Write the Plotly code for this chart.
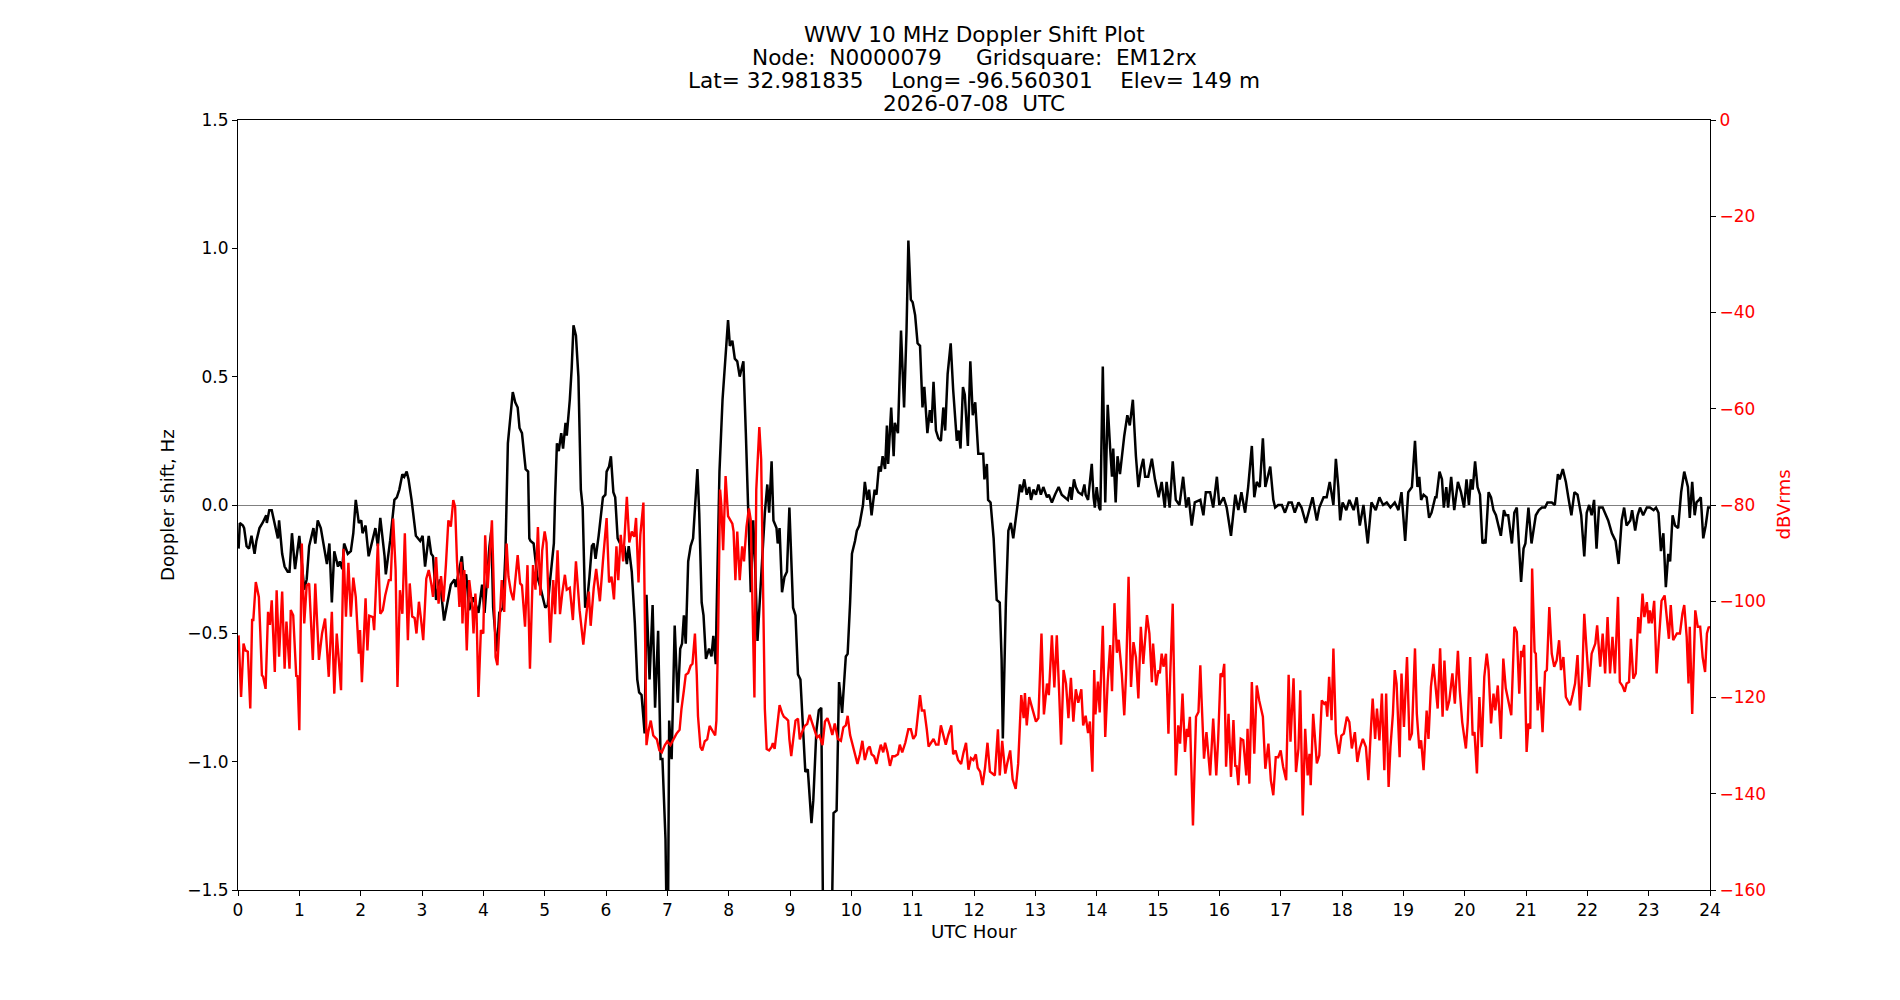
import plotly.graph_objects as go

# ---------------- data ----------------
black_hours = [
0.01,0.03,0.08,0.10,0.14,0.18,0.22,0.27,0.30,0.35,0.40,0.46,0.47,0.51,0.55,0.59,0.65,0.67,0.72,0.76,
0.81,0.84,0.88,0.93,1.00,1.08,1.12,1.16,1.23,1.26,1.30,1.35,1.39,1.45,1.49,1.53,1.57,1.63,1.66,1.70,
1.73,1.79,1.84,1.88,1.92,1.97,2.01,2.03,2.08,2.13,2.24,2.28,2.32,2.39,2.41,2.48,2.55,2.59,2.63,2.68,
2.71,2.75,2.78,2.83,2.90,2.97,3.01,3.05,3.11,3.15,3.18,3.23,3.29,3.36,3.47,3.53,3.55,3.65,3.68,3.72,
3.77,3.83,3.88,3.92,3.98,4.02,4.10,4.13,4.16,4.22,4.26,4.32,4.36,4.40,4.48,4.52,4.56,4.59,4.63,4.66,
4.69,4.73,4.75,4.77,4.82,4.88,4.93,5.01,5.05,5.09,5.15,5.17,5.20,5.23,5.27,5.30,5.34,5.36,5.41,5.44,
5.47,5.51,5.55,5.59,5.62,5.66,5.69,5.73,5.77,5.80,5.83,5.88,5.92,5.95,5.99,6.01,6.05,6.08,6.12,6.15,
6.19,6.23,6.26,6.30,6.34,6.37,6.42,6.47,6.51,6.54,6.58,6.63,6.66,6.71,6.76,6.80,6.85,6.89,6.92,6.97,
6.99,7.01,7.03,7.07,7.12,7.17,7.21,7.24,7.27,7.30,7.34,7.38,7.42,7.46,7.49,7.52,7.56,7.59,7.63,7.68,
7.72,7.75,7.79,7.80,7.85,7.90,7.95,7.99,8.02,8.06,8.10,8.14,8.18,8.24,8.28,8.32,8.36,8.40,8.43,8.47,
8.51,8.55,8.59,8.63,8.66,8.70,8.73,8.78,8.80,8.83,8.87,8.91,8.95,8.99,9.05,9.09,9.13,9.17,9.21,9.25,
9.29,9.32,9.35,9.38,9.43,9.47,9.51,9.54,9.60,9.68,9.71,9.76,9.80,9.85,9.91,9.94,9.98,10.01,10.06,10.09,
10.13,10.16,10.19,10.22,10.26,10.29,10.33,10.38,10.41,10.45,10.48,10.51,10.55,10.58,10.60,10.65,10.69,10.71,10.76,10.81,
10.86,10.90,10.93,10.97,11.00,11.04,11.08,11.12,11.16,11.19,11.24,11.28,11.31,11.34,11.38,11.42,11.46,11.50,11.53,11.57,
11.62,11.66,11.72,11.75,11.78,11.82,11.85,11.90,11.94,11.98,12.02,12.04,12.07,12.11,12.15,12.17,12.21,12.23,12.27,12.32,
12.34,12.37,12.42,12.45,12.47,12.50,12.52,12.56,12.60,12.64,12.67,12.71,12.75,12.78,12.82,12.86,12.90,12.93,12.97,13.01,
13.05,13.09,13.13,13.19,13.22,13.27,13.32,13.38,13.43,13.48,13.53,13.57,13.59,13.63,13.66,13.70,13.76,13.80,13.82,13.86,
13.92,13.95,13.97,14.00,14.04,14.06,14.10,14.14,14.18,14.22,14.25,14.27,14.31,14.34,14.38,14.45,14.50,14.54,14.59,14.64,
14.68,14.72,14.76,14.79,14.84,14.90,14.95,15.01,15.06,15.11,15.14,15.19,15.24,15.29,15.35,15.41,15.46,15.50,15.55,15.60,
15.69,15.74,15.78,15.85,15.90,15.96,16.00,16.07,16.12,16.19,16.26,16.31,16.36,16.42,16.47,16.53,16.57,16.61,16.66,16.71,
16.75,16.78,16.83,16.88,16.91,16.96,17.02,17.07,17.13,17.18,17.23,17.29,17.34,17.41,17.47,17.52,17.59,17.63,17.70,17.75,
17.80,17.86,17.90,17.94,17.97,18.01,18.07,18.12,18.19,18.24,18.29,18.35,18.42,18.48,18.55,18.61,18.67,18.73,18.79,18.86,
18.92,18.97,19.03,19.08,19.14,19.19,19.23,19.26,19.29,19.33,19.38,19.42,19.46,19.52,19.54,19.59,19.63,19.66,19.70,19.73,
19.78,19.83,19.89,19.94,19.99,20.03,20.07,20.10,20.13,20.17,20.21,20.25,20.29,20.32,20.34,20.39,20.43,20.47,20.51,20.55,
20.59,20.64,20.67,20.71,20.77,20.81,20.85,20.92,20.96,20.99,21.04,21.09,21.16,21.21,21.26,21.31,21.35,21.42,21.47,21.52,
21.55,21.60,21.65,21.69,21.74,21.79,21.84,21.90,21.95,21.99,22.03,22.07,22.11,22.15,22.19,22.25,22.29,22.34,22.40,22.46,
22.51,22.56,22.60,22.64,22.70,22.73,22.78,22.82,22.86,22.91,22.97,23.02,23.08,23.12,23.16,23.20,23.24,23.28,23.32,23.35,
23.39,23.43,23.48,23.53,23.58,23.64,23.67,23.71,23.75,23.78,23.82,23.85,23.89,23.93,23.97,24.00]

doppler_shift_hz = [
-0.17,-0.07,-0.08,-0.09,-0.16,-0.17,-0.12,-0.19,-0.14,-0.09,-0.07,-0.04,-0.07,-0.02,-0.02,-0.07,-0.13,-0.06,-0.19,-0.24,
-0.26,-0.26,-0.11,-0.25,-0.12,-0.33,-0.29,-0.16,-0.09,-0.15,-0.06,-0.09,-0.14,-0.23,-0.15,-0.38,-0.18,-0.24,-0.22,-0.25,
-0.15,-0.19,-0.18,-0.11,0.02,-0.07,-0.06,-0.11,-0.08,-0.20,-0.09,-0.16,-0.05,-0.20,-0.27,-0.14,0.02,0.03,0.06,0.12,
0.11,0.13,0.10,0.02,-0.12,-0.14,-0.12,-0.24,-0.12,-0.19,-0.20,-0.37,-0.29,-0.45,-0.31,-0.29,-0.32,-0.20,-0.29,-0.27,
-0.41,-0.36,-0.39,-0.42,-0.31,-0.42,-0.16,-0.10,-0.40,-0.57,-0.42,-0.40,-0.19,0.24,0.44,0.40,0.38,0.30,0.28,0.20,
0.14,0.13,-0.13,-0.14,-0.15,-0.28,-0.32,-0.40,-0.39,-0.29,-0.15,0.03,0.24,0.21,0.28,0.22,0.32,0.27,0.41,0.53,
0.70,0.66,0.50,0.06,-0.01,-0.40,-0.38,-0.28,-0.16,-0.15,-0.21,-0.12,-0.04,0.03,0.04,0.13,0.15,0.19,0.05,0.03,
-0.13,-0.15,-0.18,-0.16,-0.23,-0.16,-0.26,-0.46,-0.68,-0.73,-0.74,-0.89,-0.35,-0.68,-0.39,-0.79,-0.49,-0.99,-0.99,-1.30,
-1.65,-1.65,-0.84,-0.99,-0.47,-0.77,-0.56,-0.54,-0.43,-0.54,-0.22,-0.16,-0.13,0.02,0.14,-0.03,-0.38,-0.43,-0.60,-0.56,
-0.59,-0.51,-0.62,-0.46,0.13,0.41,0.59,0.72,0.62,0.64,0.57,0.56,0.50,0.56,0.28,-0.01,-0.34,-0.06,-0.23,-0.53,
-0.35,-0.16,-0.03,0.08,-0.03,0.17,-0.06,-0.09,-0.15,-0.09,-0.34,-0.28,-0.26,-0.01,-0.40,-0.43,-0.66,-0.68,-0.86,-1.04,
-1.03,-1.13,-1.24,-1.15,-0.88,-0.80,-0.79,-1.65,-1.65,-1.65,-1.20,-1.19,-0.69,-0.81,-0.59,-0.58,-0.38,-0.19,-0.14,-0.10,
-0.08,-0.03,0.00,0.09,0.02,0.06,-0.04,0.06,0.04,0.15,0.13,0.19,0.14,0.31,0.16,0.38,0.19,0.32,0.28,0.68,
0.38,0.68,1.03,0.80,0.79,0.74,0.63,0.62,0.38,0.46,0.28,0.37,0.32,0.48,0.29,0.26,0.25,0.38,0.29,0.51,
0.63,0.45,0.25,0.29,0.22,0.46,0.43,0.23,0.56,0.35,0.40,0.32,0.20,0.20,0.20,0.10,0.16,0.02,0.01,-0.13,
-0.23,-0.37,-0.38,-0.60,-0.91,-0.60,-0.38,-0.10,-0.07,-0.13,-0.08,0.00,0.08,0.05,0.10,0.04,0.07,0.02,0.06,0.04,
0.08,0.04,0.07,0.03,0.04,0.01,0.04,0.07,0.04,0.03,0.02,0.07,0.02,0.10,0.07,0.05,0.04,0.08,0.04,0.02,
0.16,0.03,-0.01,0.07,-0.01,-0.02,0.54,0.01,0.39,0.22,0.11,0.22,0.01,0.19,0.12,0.27,0.35,0.31,0.41,0.19,
0.07,0.14,0.18,0.11,0.11,0.18,0.10,0.03,0.09,-0.01,0.09,-0.01,0.17,0.02,0.00,0.11,-0.01,0.03,-0.08,0.01,
0.02,-0.04,0.05,0.05,-0.01,0.11,0.00,0.03,-0.01,-0.12,0.04,-0.02,0.05,-0.03,0.07,0.23,0.03,0.09,0.07,0.26,
0.07,0.10,0.15,0.02,-0.01,0.00,0.00,-0.03,0.01,0.01,-0.03,0.01,-0.01,-0.07,-0.01,0.03,-0.06,-0.01,0.03,0.03,
0.09,0.00,0.18,0.07,-0.06,0.01,-0.02,0.02,-0.02,0.03,-0.08,0.00,-0.15,0.01,-0.02,0.03,0.00,0.01,-0.01,0.01,
-0.02,0.05,-0.14,0.05,0.07,0.25,0.07,0.11,0.02,0.04,0.03,-0.05,-0.03,0.03,0.03,0.13,0.10,-0.01,0.07,-0.01,
0.11,-0.02,0.09,0.05,-0.01,0.10,0.00,0.10,0.06,0.17,0.07,0.04,-0.15,-0.14,-0.15,0.05,0.03,-0.02,-0.04,-0.08,
-0.12,-0.02,-0.04,-0.04,-0.15,-0.03,-0.01,-0.30,-0.17,-0.15,-0.01,-0.15,-0.04,-0.02,-0.01,-0.01,0.01,0.01,0.00,0.12,
0.10,0.14,0.09,0.03,-0.04,0.05,0.04,-0.04,-0.20,-0.03,0.00,-0.04,0.02,-0.17,-0.01,-0.01,-0.03,-0.06,-0.11,-0.14,
-0.23,-0.06,-0.01,-0.08,-0.06,-0.02,-0.10,-0.04,-0.01,-0.04,-0.01,-0.01,-0.02,-0.01,-0.03,-0.18,-0.11,-0.32,-0.19,-0.22,
-0.04,-0.08,-0.09,0.05,0.13,0.07,-0.05,0.09,-0.04,0.01,0.02,0.03,-0.13,-0.08,-0.01,-0.01]

red_hours = [
0.01,0.05,0.09,0.12,0.16,0.20,0.23,0.25,0.29,0.34,0.36,0.39,0.41,0.45,0.49,0.52,0.55,0.60,0.63,0.67,
0.72,0.76,0.79,0.84,0.86,0.90,0.95,0.97,1.00,1.04,1.08,1.12,1.16,1.22,1.26,1.32,1.37,1.42,1.48,1.53,
1.57,1.61,1.64,1.68,1.72,1.76,1.80,1.84,1.88,1.92,1.97,1.99,2.02,2.08,2.11,2.14,2.20,2.22,2.28,2.32,
2.36,2.40,2.46,2.49,2.53,2.57,2.60,2.64,2.68,2.72,2.77,2.80,2.84,2.88,2.91,2.95,2.98,3.02,3.07,3.11,
3.15,3.18,3.23,3.27,3.31,3.35,3.39,3.43,3.47,3.51,3.54,3.57,3.61,3.64,3.66,3.69,3.73,3.77,3.82,3.84,
3.87,3.89,3.92,3.96,4.00,4.03,4.07,4.11,4.14,4.16,4.20,4.23,4.27,4.30,4.34,4.38,4.41,4.45,4.49,4.52,
4.56,4.60,4.63,4.68,4.72,4.76,4.81,4.85,4.89,4.93,4.96,5.00,5.03,5.07,5.09,5.14,5.17,5.21,5.25,5.29,
5.33,5.36,5.41,5.46,5.51,5.57,5.63,5.68,5.72,5.75,5.80,5.84,5.90,5.95,5.98,6.01,6.05,6.09,6.13,6.17,
6.20,6.24,6.28,6.34,6.38,6.42,6.46,6.49,6.53,6.56,6.61,6.64,6.66,6.69,6.73,6.77,6.83,6.87,6.91,6.96,
7.00,7.05,7.10,7.15,7.20,7.23,7.27,7.30,7.34,7.38,7.41,7.45,7.48,7.50,7.54,7.57,7.61,7.65,7.69,7.74,
7.78,7.80,7.83,7.86,7.88,7.91,7.95,7.99,8.03,8.06,8.08,8.11,8.14,8.18,8.22,8.25,8.29,8.33,8.36,8.39,
8.42,8.45,8.50,8.53,8.56,8.59,8.62,8.66,8.70,8.72,8.75,8.79,8.83,8.87,8.90,8.94,8.97,8.99,9.02,9.06,
9.09,9.13,9.16,9.20,9.24,9.28,9.32,9.36,9.40,9.44,9.48,9.53,9.57,9.61,9.65,9.69,9.73,9.78,9.83,9.87,
9.91,9.94,9.98,10.02,10.05,10.10,10.14,10.18,10.22,10.27,10.30,10.33,10.37,10.41,10.45,10.48,10.52,10.55,10.59,10.63,
10.67,10.71,10.76,10.79,10.83,10.88,10.93,10.97,11.01,11.05,11.08,11.12,11.15,11.19,11.23,11.26,11.30,11.34,11.38,11.42,
11.46,11.50,11.54,11.58,11.63,11.66,11.70,11.74,11.79,11.83,11.87,11.91,11.95,11.99,12.03,12.06,12.10,12.14,12.18,12.22,
12.26,12.30,12.34,12.39,12.42,12.46,12.51,12.54,12.59,12.63,12.68,12.72,12.77,12.81,12.83,12.86,12.90,12.94,12.97,13.01,
13.05,13.10,13.14,13.19,13.22,13.27,13.31,13.35,13.39,13.42,13.46,13.50,13.54,13.58,13.62,13.66,13.70,13.75,13.78,13.82,
13.86,13.89,13.93,13.96,13.98,14.02,14.05,14.10,14.14,14.18,14.22,14.25,14.29,14.33,14.36,14.41,14.45,14.48,14.52,14.56,
14.60,14.64,14.68,14.72,14.76,14.82,14.86,14.90,14.92,14.97,15.01,15.03,15.06,15.09,15.13,15.17,15.20,15.24,15.29,15.33,
15.36,15.40,15.44,15.47,15.49,15.52,15.57,15.62,15.66,15.69,15.71,15.75,15.79,15.85,15.90,15.95,15.98,16.02,16.05,16.08,
16.11,16.15,16.19,16.23,16.26,16.28,16.31,16.35,16.39,16.44,16.46,16.49,16.53,16.57,16.61,16.65,16.71,16.75,16.80,16.84,
16.88,16.92,16.96,17.00,17.04,17.09,17.13,17.16,17.21,17.25,17.29,17.32,17.36,17.40,17.44,17.47,17.49,17.53,17.59,17.63,
17.67,17.71,17.74,17.76,17.79,17.83,17.86,17.90,17.95,17.99,18.03,18.08,18.12,18.16,18.21,18.25,18.29,18.34,18.39,18.43,
18.47,18.50,18.54,18.57,18.61,18.65,18.69,18.72,18.76,18.79,18.83,18.86,18.89,18.94,18.97,19.01,19.06,19.10,19.14,19.19,
19.22,19.26,19.29,19.33,19.38,19.41,19.45,19.49,19.53,19.56,19.60,19.64,19.67,19.71,19.75,19.80,19.84,19.89,19.92,19.96,
19.99,20.02,20.05,20.09,20.13,20.16,20.20,20.24,20.28,20.32,20.36,20.39,20.43,20.47,20.50,20.54,20.59,20.63,20.67,20.71,
20.76,20.81,20.85,20.89,20.92,20.94,20.97,21.01,21.04,21.07,21.10,21.14,21.16,21.19,21.23,21.27,21.31,21.34,21.38,21.42,
21.46,21.50,21.54,21.57,21.61,21.65,21.68,21.72,21.76,21.80,21.84,21.88,21.92,21.95,21.99,22.03,22.07,22.13,22.16,22.21,
22.25,22.29,22.33,22.37,22.41,22.45,22.50,22.53,22.57,22.61,22.64,22.68,22.71,22.75,22.79,22.83,22.86,22.90,22.93,22.97,
23.00,23.02,23.05,23.09,23.13,23.17,23.21,23.26,23.29,23.33,23.36,23.40,23.46,23.51,23.55,23.58,23.62,23.65,23.67,23.71,
23.76,23.80,23.84,23.88,23.92,23.95,23.98,24.00]

signal_dbvrms = [
-107.1,-119.9,-108.8,-110.2,-110.5,-122.3,-103.9,-103.9,-96.0,-99.1,-105.3,-115.4,-115.7,-118.2,-102.2,-104.9,-99.8,-114.7,-97.7,-111.5,
-98.0,-114.0,-104.2,-114.0,-101.8,-102.9,-115.7,-115.4,-126.8,-88.0,-104.6,-96.7,-96.3,-112.2,-96.3,-112.2,-106.7,-103.6,-115.7,-102.2,
-119.2,-106.7,-111.6,-118.5,-89.1,-103.2,-92.0,-103.2,-95.1,-99.1,-110.9,-106.0,-116.8,-99.4,-110.2,-103.0,-103.3,-106.0,-88.0,-102.6,
-101.9,-98.8,-95.6,-95.6,-82.8,-93.5,-117.8,-97.7,-102.6,-85.9,-108.1,-96.3,-103.2,-103.5,-106.7,-100.1,-103.3,-108.1,-95.3,-93.5,
-96.3,-99.1,-90.8,-100.5,-94.8,-100.1,-92.4,-83.2,-84.5,-79.0,-80.4,-91.5,-101.2,-91.8,-104.6,-93.5,-110.2,-95.6,-101.2,-106.7,
-98.4,-102.9,-119.9,-106.0,-106.7,-86.3,-97.3,-88.4,-83.2,-92.2,-111.6,-113.3,-102.6,-95.6,-102.2,-88.0,-94.9,-98.0,-99.8,-95.6,
-90.4,-96.3,-96.7,-105.3,-92.5,-114.0,-92.5,-97.6,-84.6,-98.8,-89.4,-85.5,-87.8,-101.9,-108.6,-95.6,-102.7,-89.4,-102.7,-98.0,
-94.5,-97.6,-97.2,-103.9,-91.7,-101.9,-109.0,-102.7,-98.0,-105.1,-97.2,-93.3,-100.0,-91.7,-87.8,-82.7,-96.1,-94.9,-99.6,-88.6,
-95.6,-86.2,-91.7,-78.3,-87.8,-85.5,-86.6,-82.7,-96.1,-86.2,-79.5,-108.2,-129.9,-127.1,-124.8,-127.9,-128.7,-131.0,-131.4,-129.9,
-129.1,-129.9,-128.7,-127.5,-126.7,-122.4,-118.5,-115.3,-114.9,-113.4,-113.0,-106.7,-115.3,-123.9,-130.3,-131.0,-129.1,-128.7,-125.9,-127.1,
-127.9,-124.8,-105.1,-76.8,-79.9,-89.4,-74.0,-82.3,-83.1,-83.9,-85.5,-95.6,-85.5,-95.6,-88.6,-91.7,-84.6,-80.7,-83.1,-101.9,
-120.0,-76.8,-63.8,-70.5,-96.5,-122.4,-130.7,-131.0,-130.3,-129.5,-130.7,-125.5,-121.6,-123.2,-124.0,-124.4,-124.8,-128.7,-132.2,-127.9,
-124.8,-124.4,-128.7,-127.1,-125.9,-125.5,-123.6,-125.2,-126.7,-128.3,-127.9,-129.9,-125.0,-124.3,-125.8,-127.8,-125.4,-128.6,-129.0,-126.2,
-125.8,-123.8,-127.8,-129.8,-131.4,-133.8,-131.8,-129.0,-133.0,-130.6,-130.2,-131.8,-132.2,-133.8,-131.4,-129.8,-131.4,-129.4,-131.4,-134.2,
-132.2,-132.2,-131.8,-129.8,-131.4,-129.4,-126.6,-126.6,-128.6,-127.8,-124.3,-119.5,-122.7,-122.7,-126.6,-130.2,-129.4,-128.6,-129.8,-129.8,
-125.8,-127.8,-129.8,-127.8,-125.8,-131.8,-131.0,-133.0,-133.8,-131.4,-129.4,-135.0,-132.6,-133.0,-131.8,-134.6,-135.4,-138.2,-134.6,-129.4,
-135.4,-135.8,-136.2,-126.6,-136.2,-129.0,-135.8,-133.8,-131.0,-137.0,-139.0,-133.8,-119.5,-124.3,-119.1,-125.8,-119.9,-121.8,-123.1,-125.0,
-124.3,-106.7,-123.5,-117.1,-119.5,-107.1,-117.9,-107.1,-119.5,-129.8,-114.3,-117.1,-124.3,-115.9,-125.0,-118.3,-121.1,-118.3,-125.8,-123.8,
-127.4,-125.0,-135.4,-114.3,-123.5,-116.7,-123.1,-105.1,-128.2,-116.7,-109.1,-118.7,-100.4,-110.7,-108.0,-115.1,-123.7,-115.0,-94.9,-117.8,
-108.5,-111.6,-120.2,-105.3,-113.0,-102.9,-106.7,-116.8,-108.8,-117.5,-114.3,-115.0,-110.9,-113.6,-110.9,-127.5,-115.0,-100.5,-136.2,-125.8,
-129.6,-119.2,-131.3,-126.5,-128.2,-124.0,-146.6,-124.0,-123.0,-113.3,-120.2,-132.7,-127.2,-136.2,-124.4,-136.2,-128.9,-115.0,-115.7,-113.0,
-134.4,-123.4,-136.5,-124.7,-134.4,-134.1,-138.2,-128.6,-128.9,-136.2,-126.5,-137.9,-116.8,-131.7,-117.5,-120.6,-124.0,-134.8,-129.6,-137.2,
-140.3,-132.4,-132.4,-131.0,-134.4,-137.2,-115.3,-129.2,-116.0,-135.5,-130.6,-118.5,-144.5,-126.5,-136.2,-131.7,-138.2,-123.4,-133.7,-132.0,
-120.6,-121.3,-120.9,-124.0,-115.7,-124.7,-109.8,-127.5,-131.7,-127.9,-127.5,-124.0,-125.1,-130.6,-127.2,-133.4,-130.6,-128.6,-130.3,-137.2,
-126.8,-120.2,-128.6,-122.3,-128.9,-119.2,-135.1,-119.2,-138.6,-130.3,-123.4,-114.3,-117.1,-132.4,-115.0,-126.1,-111.6,-128.9,-127.5,-109.8,
-123.4,-130.6,-128.9,-135.1,-122.7,-128.6,-117.8,-113.0,-118.3,-122.3,-109.8,-124.0,-112.3,-122.7,-120.6,-115.0,-121.3,-110.3,-118.5,-125.1,
-127.9,-130.6,-125.1,-111.6,-127.9,-127.2,-135.8,-119.9,-130.3,-115.7,-110.9,-114.3,-125.4,-119.2,-122.7,-117.5,-128.6,-111.9,-118.1,-120.6,
-123.7,-105.3,-106.4,-119.2,-110.3,-111.6,-109.1,-131.3,-125.4,-126.5,-93.2,-110.5,-110.9,-122.7,-117.8,-127.2,-114.7,-114.3,-101.2,-110.9,
-113.6,-112.3,-108.1,-114.3,-111.6,-119.9,-120.6,-121.6,-119.5,-117.1,-111.2,-122.7,-114.3,-102.6,-110.5,-117.8,-110.9,-108.8,-105.0,-113.6,
-106.7,-115.0,-103.3,-115.0,-107.4,-115.0,-99.1,-116.8,-117.5,-118.8,-117.1,-116.8,-107.8,-116.1,-115.0,-103.3,-106.7,-98.4,-103.3,-100.2,
-104.6,-101.9,-104.6,-99.9,-115.0,-106.7,-99.9,-98.8,-102.6,-107.8,-100.8,-108.1,-106.7,-106.7,-102.6,-100.8,-107.4,-117.1,-105.3,-123.4,
-101.9,-105.3,-105.3,-111.6,-114.7,-106.7,-105.3,-105.6]

x_ticks = list(range(0, 25))
left_ticks = [-1.5, -1.0, -0.5, 0.0, 0.5, 1.0, 1.5]
right_ticks = [-160, -140, -120, -100, -80, -60, -40, -20, 0]

title_lines = [
    "WWV 10 MHz Doppler Shift Plot",
    "Node:  N0000079     Gridsquare:  EM12rx",
    "Lat= 32.981835    Long= -96.560301    Elev= 149 m",
    "2026-07-08  UTC",
]

# ---------------- figure ----------------
FONT = "DejaVu Sans"
TICK_SIZE = 17
LABEL_SIZE = 18.2
TITLE_SIZE = 21.6

fig = go.Figure()

fig.add_trace(go.Scatter(x=black_hours, y=doppler_shift_hz, mode="lines",
                         line=dict(color="#000000", width=2.5), yaxis="y",
                         showlegend=False, hoverinfo="skip"))
fig.add_trace(go.Scatter(x=red_hours, y=signal_dbvrms, mode="lines",
                         line=dict(color="#ff0000", width=2.4), yaxis="y2",
                         showlegend=False, hoverinfo="skip"))

axis_common = dict(showgrid=False, showline=True, linecolor="black", linewidth=1,
                   ticks="outside", ticklen=5, tickwidth=1, tickcolor="black")

fig.update_layout(
    width=1900, height=1000, autosize=False,
    margin=dict(l=238, r=190, t=120, b=110, pad=0),
    paper_bgcolor="white", plot_bgcolor="white",
    font=dict(family=FONT, size=TICK_SIZE, color="black"),
    xaxis=dict(range=[0, 24], tickvals=x_ticks, mirror=True, zeroline=False,
               tickfont=dict(size=TICK_SIZE), **axis_common),
    yaxis=dict(range=[-1.5, 1.5], tickvals=left_ticks, tickformat=".1f",
               zeroline=True, zerolinecolor="#808080", zerolinewidth=1,
               tickfont=dict(size=TICK_SIZE), **axis_common),
    yaxis2=dict(range=[-160, 0], tickvals=right_ticks, overlaying="y", side="right",
                zeroline=False, tickfont=dict(size=TICK_SIZE, color="#ff0000"), **axis_common),
)

# multi-line title, one annotation per line (matplotlib line spacing)
title_y = [1.1104, 1.0818, 1.0519, 1.0208]
for txt, yy in zip(title_lines, title_y):
    fig.add_annotation(text=txt.replace(" ", "\u00a0"), xref="paper", yref="paper",
                       x=0.5, y=yy, xanchor="center", yanchor="middle", showarrow=False,
                       font=dict(family=FONT, size=TITLE_SIZE, color="black"))

# axis titles
fig.add_annotation(text="UTC Hour", xref="paper", yref="paper", x=0.5, y=-0.0534,
                   xanchor="center", yanchor="middle", showarrow=False,
                   font=dict(family=FONT, size=LABEL_SIZE, color="black"))
fig.add_annotation(text="Doppler shift, Hz", xref="paper", yref="paper", x=-0.0482, y=0.5,
                   xanchor="center", yanchor="middle", textangle=-90, showarrow=False,
                   font=dict(family=FONT, size=LABEL_SIZE, color="black"))
fig.add_annotation(text="dBVrms", xref="paper", yref="paper", x=1.0493, y=0.5,
                   xanchor="center", yanchor="middle", textangle=-90, showarrow=False,
                   font=dict(family=FONT, size=LABEL_SIZE, color="#ff0000"))

fig.write_html("out.html")
